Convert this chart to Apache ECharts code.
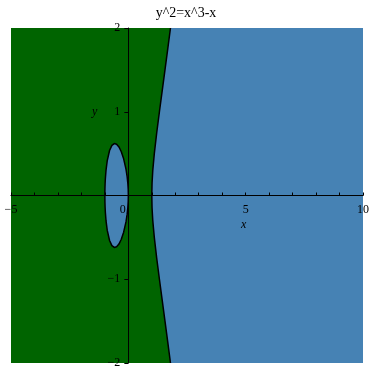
<!DOCTYPE html>
<html>
<head>
<meta charset="utf-8">
<script src="https://cdn.jsdelivr.net/npm/echarts@6/dist/echarts.min.js"></script>
<style>
  html, body { margin: 0; padding: 0; background: #fff; }
  #chart { width: 372px; height: 369px; }
</style>
</head>
<body>
<div id="chart"></div>
<script>
// Right branch of the curve y^2 = x^3 - x, traced bottom to top
const branchY = [-2, -1.75, -1.5, -1.25, -1, -0.75, -0.5, -0.3, -0.15, 0, 0.15, 0.3, 0.5, 0.75, 1, 1.25, 1.5, 1.75, 2];
const branchX = [1.796, 1.680, 1.562, 1.443, 1.325, 1.210, 1.107, 1.042, 1.011, 1.000, 1.011, 1.042, 1.107, 1.210, 1.325, 1.443, 1.562, 1.680, 1.796];

// Closed oval between x = -1 and x = 0 (upper half left to right, then lower half back)
const ovalX = [-1, -0.997, -0.99, -0.98, -0.95, -0.9, -0.8, -0.7, -0.6, -0.5, -0.4, -0.3, -0.2, -0.1, -0.05, -0.02, -0.005, 0,
               -0.005, -0.02, -0.05, -0.1, -0.2, -0.3, -0.4, -0.5, -0.6, -0.7, -0.8, -0.9, -0.95, -0.98, -0.99, -0.997, -1];
const ovalY = [0, 0.077, 0.140, 0.197, 0.304, 0.414, 0.537, 0.598, 0.620, 0.612, 0.580, 0.522, 0.438, 0.315, 0.223, 0.141, 0.071, 0,
               -0.071, -0.141, -0.223, -0.315, -0.438, -0.522, -0.580, -0.612, -0.620, -0.598, -0.537, -0.414, -0.304, -0.197, -0.140, -0.077, 0];

// Plot window
const xRange = [-5, 10];
const yRange = [-2, 2];
const xTickLabels = [-5, 0, 5, 10];
const yTickLabels = [-2, -1, 1, 2];

const positiveColor = '#4682B4';
const negativeColor = '#006400';
const serif = '"Liberation Serif", "DejaVu Serif", serif';

// Plot box in pixels
const box = { left: 11, right: 9, top: 28, bottom: 6 };
const boxW = 372 - box.left - box.right;
const boxH = 369 - box.top - box.bottom;
// Axes cross at the origin: shift each axis from its edge to the zero line
const xAxisShift = -boxH * (0 - yRange[0]) / (yRange[1] - yRange[0]);
const yAxisShift = -boxW * (0 - xRange[0]) / (xRange[1] - xRange[0]);

const branchPts = branchX.map((x, i) => [x, branchY[i]]);
const ovalPts = ovalX.map((x, i) => [x, ovalY[i]]);

// Region where x^3 - x > y^2 to the right of the branch
const rightRegion = branchPts.concat([[xRange[1], yRange[1]], [xRange[1], yRange[0]]]);

function polygonSeries(points) {
  return {
    type: 'custom',
    coordinateSystem: 'cartesian2d',
    silent: true,
    data: [[points[0][0], points[0][1]]],
    z: 1,
    renderItem: function (params, api) {
      return {
        type: 'polygon',
        shape: { points: points.map(p => api.coord(p)) },
        style: { fill: positiveColor, stroke: null }
      };
    }
  };
}

function curveSeries(points) {
  return {
    type: 'line',
    data: points,
    showSymbol: false,
    silent: true,
    z: 3,
    lineStyle: { color: '#000', width: 1.5 }
  };
}

const chart = echarts.init(document.getElementById('chart'));
chart.setOption({
  animation: false,
  backgroundColor: '#fff',
  title: {
    text: 'y^2=x^3-x',
    left: 'center',
    top: 1,
    textStyle: { fontFamily: serif, fontSize: 14, fontWeight: 'normal', color: '#000' }
  },
  grid: {
    left: box.left, right: box.right, top: box.top, bottom: box.bottom,
    containLabel: false,
    outerBoundsMode: 'none',
    show: true, backgroundColor: negativeColor, borderWidth: 0
  },
  xAxis: {
    type: 'value',
    position: 'bottom',
    offset: xAxisShift,
    min: xRange[0], max: xRange[1], interval: 1,
    axisLine: { onZero: false, lineStyle: { color: '#000', width: 1 } },
    axisTick: { show: true, inside: true, length: 3, lineStyle: { color: '#000' } },
    splitLine: { show: false },
    z: 5,
    axisLabel: {
      margin: 8,
      fontFamily: serif, fontSize: 12, color: '#000',
      formatter: v => xTickLabels.indexOf(v) < 0 ? '' : (v === 0 ? '{z|0}' : String(v).replace('-', '\u2212')),
      rich: { z: { fontFamily: serif, fontSize: 12, color: '#000', padding: [0, 11, 0, 0] } }
    }
  },
  yAxis: {
    type: 'value',
    position: 'left',
    offset: yAxisShift,
    min: yRange[0], max: yRange[1], interval: 1,
    axisLine: { onZero: false, lineStyle: { color: '#000', width: 1 } },
    axisTick: { show: true, inside: false, length: 4, lineStyle: { color: '#000' } },
    splitLine: { show: false },
    z: 5,
    axisLabel: {
      margin: 8,
      fontFamily: serif, fontSize: 12, color: '#000',
      formatter: v => yTickLabels.indexOf(v) < 0 ? '' : String(v).replace('-', '\u2212')
    }
  },
  graphic: [
    { type: 'text', left: 241, top: 219, z: 10,
      style: { text: 'x', fontFamily: serif, fontStyle: 'italic', fontSize: 12, fill: '#000' } },
    { type: 'text', left: 92, top: 106, z: 10,
      style: { text: 'y', fontFamily: serif, fontStyle: 'italic', fontSize: 12, fill: '#000' } }
  ],
  series: [
    polygonSeries(rightRegion),
    polygonSeries(ovalPts),
    curveSeries(branchPts),
    curveSeries(ovalPts)
  ]
});
</script>
</body>
</html>
